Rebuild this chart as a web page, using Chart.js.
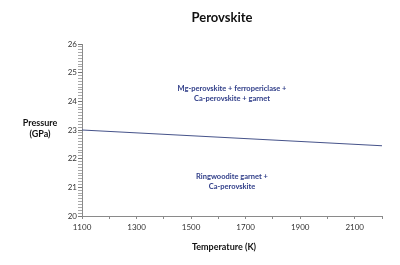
<!DOCTYPE html>
<html>
<head>
<meta charset="utf-8">
<script src="https://cdn.jsdelivr.net/npm/chart.js@4/dist/chart.umd.min.js"></script>
<style>
  html, body { margin: 0; padding: 0; background: #fff; }
  #wrap { width: 400px; height: 265px; }
</style>
</head>
<body>
<div id="wrap"><canvas id="chart" width="400" height="265"></canvas></div>
<script>
// boundary line (temperature K, pressure GPa)
const temperatures = [1100, 2200];
const pressures = [23.0, 22.45];

const xRange = [1100, 2200];
const yRange = [20, 26];
const xLabelValues = [1100, 1300, 1500, 1700, 1900, 2100];

// phase field labels, anchored in data coordinates
const regionText = [
  { x: 1650, y: 24.45, lines: ["Mg-perovskite + ferropericlase +", "Ca-perovskite + garnet"] },
  { x: 1650, y: 21.38, lines: ["Ringwoodite garnet +", "Ca-perovskite"] },
];

const FONT = "Lato, 'Open Sans', sans-serif";
const textBlue = "#2f3d88";

const labelsPlugin = {
  id: "labels",
  afterDraw(chart) {
    const ctx = chart.ctx;
    const xs = chart.scales.x;
    const ys = chart.scales.y;
    ctx.save();
    ctx.textAlign = "center";
    ctx.textBaseline = "middle";

    // title
    ctx.fillStyle = "#111";
    ctx.font = "bold 13px " + FONT;
    ctx.fillText("Perovskite", 222, 18);

    // axis titles
    ctx.font = "bold 9px " + FONT;
    ctx.fillText("Pressure", 40, 123);
    ctx.fillText("(GPa)", 40, 134);
    ctx.fillText("Temperature (K)", 224, 247);

    // region labels
    ctx.fillStyle = textBlue;
    ctx.font = "bold 7.5px " + FONT;
    regionText.forEach((r) => {
      const px = xs.getPixelForValue(r.x);
      const py = ys.getPixelForValue(r.y);
      r.lines.forEach((line, i) => ctx.fillText(line, px, py + i * 10));
    });
    ctx.restore();
  },
};

const isWhole = (v) => Math.abs(v - Math.round(v)) < 1e-6;

new Chart(document.getElementById("chart"), {
  type: "scatter",
  data: {
    datasets: [
      {
        data: temperatures.map((t, i) => ({ x: t, y: pressures[i] })),
        showLine: true,
        borderColor: "#46538a",
        borderWidth: 1.2,
        pointRadius: 0,
        tension: 0,
      },
    ],
  },
  options: {
    responsive: false,
    animation: false,
    layout: { padding: { left: 0, right: 18, top: 44, bottom: 0 } },
    plugins: {
      legend: { display: false },
      tooltip: { enabled: false },
      title: { display: false },
    },
    scales: {
      x: {
        type: "linear",
        min: xRange[0],
        max: xRange[1],
        afterFit(scale) {
          scale.height = 49;
        },
        border: { color: "#8a8a8a", width: 1 },
        grid: { drawOnChartArea: false, tickLength: 3, color: "#8a8a8a" },
        ticks: {
          stepSize: 100,
          autoSkip: false,
          maxRotation: 0,
          padding: 4,
          color: "#333",
          font: { family: FONT, size: 8 },
          callback: (v) => (xLabelValues.includes(Math.round(v)) ? String(Math.round(v)) : ""),
        },
      },
      y: {
        min: yRange[0],
        max: yRange[1],
        afterFit(scale) {
          scale.width = 82;
        },
        border: { color: "#8a8a8a", width: 1 },
        grid: {
          drawOnChartArea: false,
          tickLength: 4,
          color: (c) => (isWhole(c.tick.value) ? "#777" : "#aaa"),
        },
        ticks: {
          stepSize: 0.1,
          autoSkip: false,
          padding: 1,
          color: "#333",
          font: { family: FONT, size: 8 },
          callback: (v) => (isWhole(v) ? String(Math.round(v)) : ""),
        },
      },
    },
  },
  plugins: [labelsPlugin],
});
</script>
</body>
</html>
